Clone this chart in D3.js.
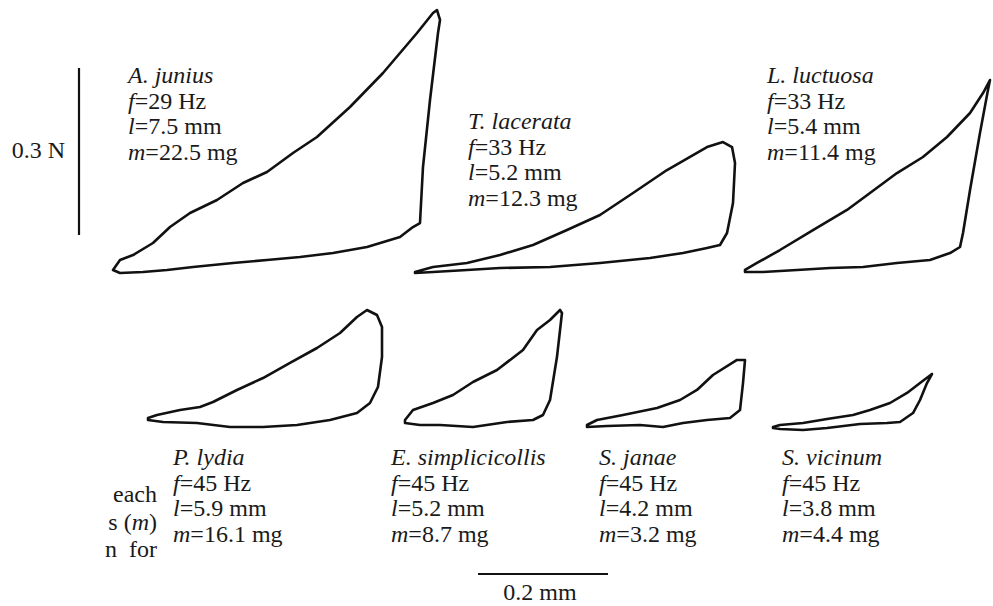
<!DOCTYPE html>
<html>
<head>
<meta charset="utf-8">
<script src="https://cdn.jsdelivr.net/npm/d3@7"></script>
<style>
  html, body { margin: 0; padding: 0; background: #fff; }
  svg { display: block; }
</style>
</head>
<body>
<svg id="chart" width="993" height="606"></svg>
<script>
// ---- data: work loops, displacement (µm) vs force (mN) ----
const species = ["A. junius", "T. lacerata", "L. luctuosa", "P. lydia", "E. simplicicollis", "S. janae", "S. vicinum"];
const frequencyHz = [29, 33, 33, 45, 45, 45, 45];
const lengthMm = [7.5, 5.2, 5.4, 5.9, 5.2, 4.2, 3.8];
const massMg = [22.5, 12.3, 11.4, 16.1, 8.7, 3.2, 4.4];

const loopJunius = [[0,3.6],[10.8,21.6],[30.8,30.5],[61.5,52.1],[87.7,80.8],[118.5,106],[160,129.3],[200,159.9],[236.9,179.6],[276.9,213.8],[313.8,242.5],[364.6,296.4],[415.4,357.5],[467.7,429.3],[492.3,465.2],[498.5,470.6],[503.1,452.7],[500,429.3],[487.7,309],[476.9,188.6],[472.3,88],[461.5,80.8],[441.5,62.9],[390.8,44.9],[338.5,34.1],[287.7,26.9],[236.9,21.6],[184.6,16.2],[123.1,9],[83.1,3.6],[46.2,0],[10.8,-1.8]];
const loopLacerata = [[3.1,0],[30.8,9],[83.1,16.2],[133.8,30.5],[184.6,48.5],[236.9,75.4],[287.7,102.4],[338.5,141.9],[390.8,183.2],[426.2,206.6],[452.3,224.5],[476.9,233.5],[490.8,224.5],[495.4,195.8],[492.3,123.9],[483.1,70.1],[472.3,48.5],[452.3,43.1],[415.4,34.1],[364.6,25.1],[287.7,16.2],[210.8,9],[133.8,7.2],[83.1,3.6],[30.8,0],[3.1,-1.8]];
const loopLuctuosa = [[0,3.6],[18.5,16.2],[53.8,39.5],[104.6,75.4],[156.9,111.4],[192.3,141.9],[233.8,177.8],[273.8,206.6],[310.8,242.5],[346.2,285.6],[366.2,321.5],[376.9,344.9],[373.8,326.9],[361.5,249.7],[346.2,147.3],[335.4,70.1],[330.8,44.9],[315.4,34.1],[284.6,21.6],[233.8,16.2],[181.5,9],[130.8,7.2],[80,3.6],[27.7,0],[0,0]];
const loopLydia = [[0,16.2],[13.8,21.6],[49.2,30.5],[80,35.9],[100,44.9],[136.9,66.5],[176.9,88],[218.5,115],[260,141.9],[295.4,168.9],[321.5,197.6],[336.9,210.2],[352.3,201.2],[360,179.6],[360,125.7],[353.8,71.9],[341.5,43.1],[321.5,25.1],[280,12.6],[229.2,3.6],[176.9,0],[126.2,0],[75.4,7.2],[23.1,9],[0,12.6]];
const loopSimplicicollis = [[0,12.6],[12.3,30.5],[43.1,43.1],[73.8,57.5],[104.6,80.8],[141.5,102.4],[181.5,138.3],[203.1,174.2],[223.1,192.2],[238.5,210.2],[241.5,204.8],[233.8,125.7],[223.1,48.5],[212.3,21.6],[196.9,12.6],[156.9,9],[104.6,0],[53.8,3.6],[23.1,3.6],[0,7.2]];
const loopJanae = [[0,3.6],[15.4,12.6],[55.4,21.6],[107.7,34.1],[143.1,48.5],[169.2,66.5],[193.8,93.4],[230.8,120.4],[243.1,120.4],[240,79],[235.4,30.5],[220,16.2],[184.6,12.6],[147.7,7.2],[116.9,0],[81.5,3.6],[30.8,1.8],[0,0]];
const loopVicinum = [[0,5.4],[10.8,9],[46.2,12.6],[83.1,19.8],[123.1,26.9],[149.2,35.9],[180,48.5],[206.2,66.5],[226.2,84.4],[244.6,100.6],[236.9,84.4],[226.2,53.9],[215.4,30.5],[195.4,14.4],[175.4,12.6],[133.8,10.8],[83.1,3.6],[46.2,0],[10.8,1.8],[0,3.6]];

const scaleBarForce = 300;   // mN  (0.3 N)
const scaleBarDisp = 200;    // µm  (0.2 mm)
const forceBarLabel = "0.3 N";
const dispBarLabel = "0.2 mm";

// ---- layout ----
const FONT = "'Liberation Serif', 'Times New Roman', Times, 'DejaVu Serif', serif";
const loops = [loopJunius, loopLacerata, loopLuctuosa, loopLydia, loopSimplicicollis, loopJanae, loopVicinum];
const loopOrigins = [[113,272],[413,272],[745,272],[148,427],[405,427],[587,427],[773,430]];
const labelPos = [[128,83],[468,129],[767,83],[173,465],[391,465],[599,465],[782,465]];
const lineGap = 25.7;
const fs = 24;

const svg = d3.select("#chart");
const x = d3.scaleLinear().domain([0, 200]).range([0, 130]);
const y = d3.scaleLinear().domain([0, 300]).range([0, -167]);
const line = d3.line().x(d => x(d[0])).y(d => y(d[1])).curve(d3.curveLinearClosed);

loops.forEach((lp, i) => {
  svg.append("g")
    .attr("transform", `translate(${loopOrigins[i][0]},${loopOrigins[i][1]})`)
    .append("path")
    .attr("d", line(lp))
    .attr("fill", "none")
    .attr("stroke", "#111")
    .attr("stroke-width", 2.6)
    .attr("stroke-linejoin", "round");
});

function txt(xp, yp) {
  return svg.append("text").attr("x", xp).attr("y", yp)
    .attr("font-family", FONT).attr("font-size", fs).attr("fill", "#1a1a1a");
}

// labels
species.forEach((sp, i) => {
  const [lx, ly] = labelPos[i];
  const t = txt(lx, ly);
  t.append("tspan").attr("font-style", "italic").text(sp);
  const rows = [["f", `=${frequencyHz[i]} Hz`], ["l", `=${lengthMm[i]} mm`], ["m", `=${massMg[i]} mg`]];
  rows.forEach((r, k) => {
    const tt = txt(lx, ly + lineGap * (k + 1));
    tt.append("tspan").attr("font-style", "italic").text(r[0]);
    tt.append("tspan").text(r[1]);
  });
});

// vertical scale bar (force)
const vbX = 79, vbBottom = 235;
svg.append("line").attr("x1", vbX).attr("x2", vbX)
  .attr("y1", vbBottom).attr("y2", vbBottom + y(scaleBarForce))
  .attr("stroke", "#111").attr("stroke-width", 2.2);
txt(65, 158).attr("text-anchor", "end").text(forceBarLabel);

// horizontal scale bar (displacement)
const hbX = 478, hbY = 574;
svg.append("line").attr("x1", hbX).attr("x2", hbX + x(scaleBarDisp))
  .attr("y1", hbY).attr("y2", hbY)
  .attr("stroke", "#111").attr("stroke-width", 2.2);
txt(hbX + x(scaleBarDisp) / 2 - 3, 600).attr("text-anchor", "middle").text(dispBarLabel);

// clipped caption fragment at left edge
const cap = [[["each", false]], [["s (", false], ["m", true], [")", false]], [["n  for", false]]];
const capY = [502, 530, 557];
cap.forEach((parts, i) => {
  const t = txt(157, capY[i]).attr("text-anchor", "end")
    .attr("xml:space", "preserve").style("white-space", "pre");
  parts.forEach(p => t.append("tspan").attr("font-style", p[1] ? "italic" : "normal").text(p[0]));
});
</script>
</body>
</html>
